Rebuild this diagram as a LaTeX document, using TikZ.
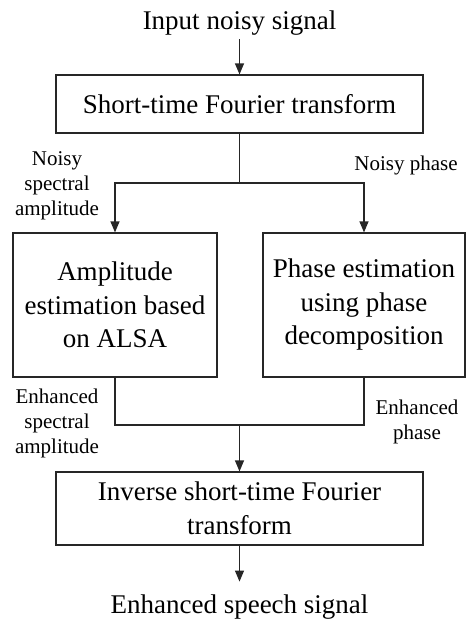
\documentclass[tikz,border=0pt]{standalone}
\usepackage{fontspec}
\setmainfont{Liberation Serif}
\usetikzlibrary{arrows.meta}

\tikzset{
  block/.style={draw=black!85, line width=1.2pt, align=center, inner sep=0pt,
    font=\fontsize{27}{33.5}\selectfont},
  plain/.style={align=center, inner xsep=0pt, font=\fontsize{27}{33.5}\selectfont},
  tag/.style={align=center, inner sep=0pt, font=\fontsize{21}{25}\selectfont},
  wire/.style={draw=black!85, line width=1.2pt},
  flow/.style={wire, -{Triangle[length=11pt,width=9pt]}}
}

\begin{document}
\begin{tikzpicture}[x=1pt,y=-1pt]
  \useasboundingbox (0,0) rectangle (466,619);

  % input and output texts
  \node[plain, anchor=base, inner ysep=4pt] (in) at (239.5,29) {Input noisy signal};
  \node[plain, anchor=base, inner ysep=12.5pt] (out) at (239.5,613) {Enhanced speech signal};

  % processing blocks
  \node[block, minimum width=367pt, minimum height=58pt] (stft) at (239.5,104)
    {Short-time Fourier transform};
  \node[block, minimum width=204pt, minimum height=144pt] (amp) at (115,305)
    {Amplitude\\estimation based\\on ALSA};
  \node[block, minimum width=202pt, minimum height=144pt] (phase) at (364,305)
    {Phase estimation\\using phase\\decomposition};
  \node[block, minimum width=367pt, minimum height=73pt] (istft) at (239.5,508.5)
    {Inverse short-time Fourier\\transform};

  % branch and merge points
  \coordinate (split) at (239.5,183);
  \coordinate (merge) at (239.5,425);

  % signal labels
  \node[tag] (lnoisy) at (57,186) {Noisy\\spectral\\amplitude};
  \node[tag, anchor=base] (rnoisy) at (406,170) {Noisy phase};
  \node[tag] (lenh) at (57,423) {Enhanced\\spectral\\amplitude};
  \node[tag] (renh) at (417,422) {Enhanced\\phase};

  % connectors
  \draw[flow] (in) -- (stft);
  \draw[wire] (stft.south) -- (split);
  \draw[flow] (split) -| (amp.north);
  \draw[flow] (split) -| (phase.north);
  \draw[wire] (amp.south) |- (merge);
  \draw[wire] (phase.south) |- (merge);
  \draw[flow] (merge) -- (istft.north);
  \draw[flow] (istft.south) -- (out.north);
\end{tikzpicture}
\end{document}
